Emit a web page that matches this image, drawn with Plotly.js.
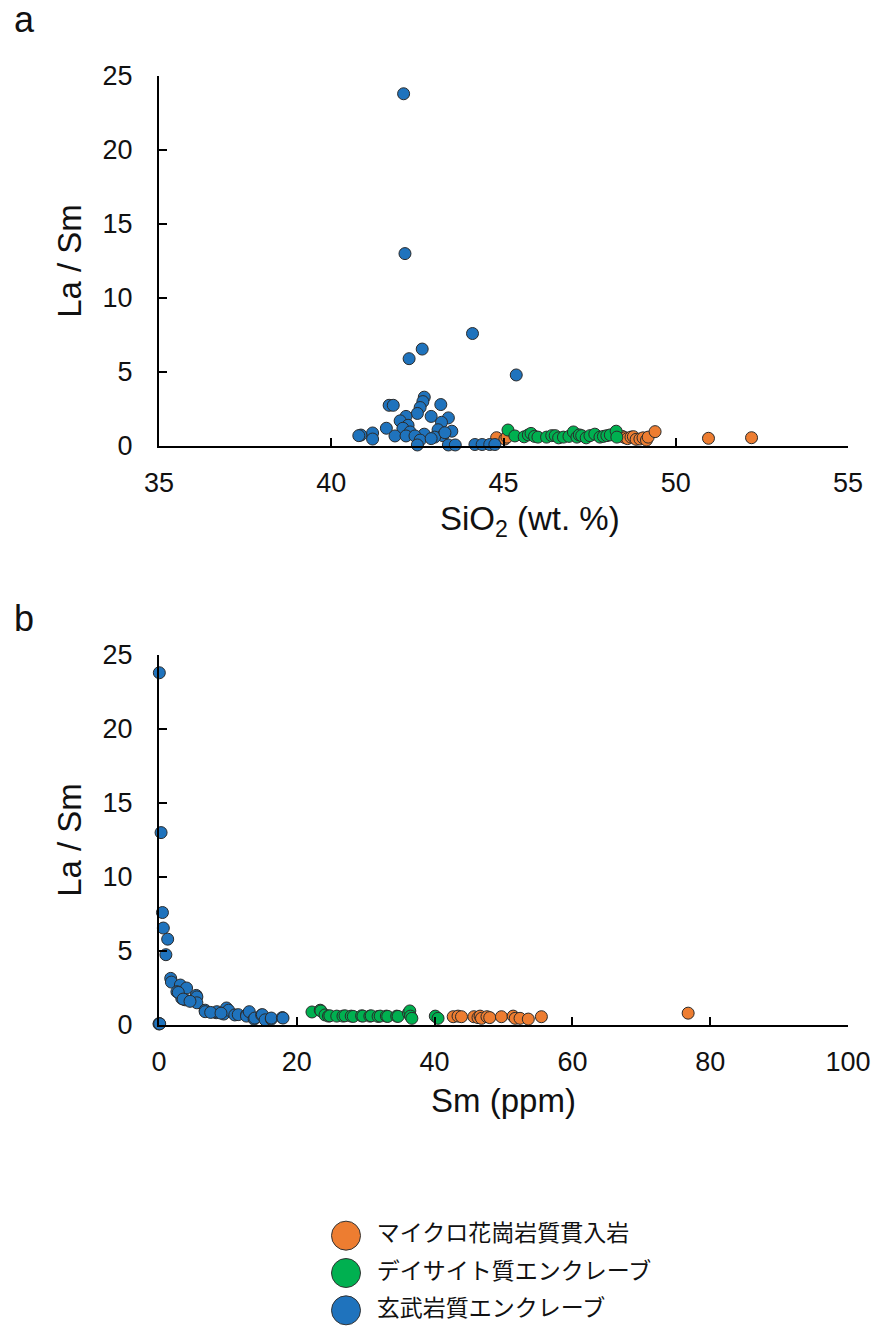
<!DOCTYPE html>
<html>
<head>
<meta charset="utf-8">
<script src="https://cdn.plot.ly/plotly-3.0.1.min.js"></script>
<style>html,body{margin:0;padding:0;background:#fff;}#chart{width:878px;height:1329px;}</style>
</head>
<body>
<div id="chart"></div>
<script>
// Group names (legend order)
var groupNames = ["マイクロ花崗岩質貫入岩", "デイサイト質エンクレーブ", "玄武岩質エンクレーブ"];
var groupColors = ["#ED7D31", "#00B050", "#1F73BD"];

// Panel a: SiO2 (wt.%) vs La/Sm
var orangeSiO2 = [44.8,45.04,45.1,48.45,48.53,48.6,48.7,48.77,48.85,48.96,49.05,49.15,49.2,49.4,50.95,52.2];
var orangeLaSmA = [0.56,0.47,0.6,0.65,0.56,0.5,0.6,0.63,0.45,0.47,0.55,0.4,0.6,0.97,0.52,0.56];
var greenSiO2 = [45.13,45.33,45.6,45.72,45.8,45.9,46.0,46.25,46.4,46.5,46.6,46.74,46.9,47.03,47.13,47.2,47.27,47.4,47.51,47.65,47.8,47.9,48.0,48.1,48.27,48.29];
var greenLaSmA = [1.08,0.68,0.62,0.75,0.85,0.65,0.6,0.6,0.7,0.7,0.55,0.6,0.65,0.95,0.6,0.75,0.7,0.55,0.7,0.8,0.6,0.65,0.7,0.75,1.0,0.6];
var blueSiO2 = [42.1,42.14,44.1,42.64,42.26,45.37,42.7,42.66,43.18,41.68,41.8,42.58,42.5,42.17,42.9,43.4,42.0,43.2,42.23,41.6,42.08,43.1,43.5,42.29,41.2,42.7,40.86,43.24,41.85,42.17,42.43,43.0,41.2,42.58,42.5,43.4,43.6,44.17,44.38,44.6,44.75,40.8,42.9,43.3];
var blueLaSmA = [23.8,13.0,7.6,6.55,5.9,4.8,3.3,3.0,2.8,2.75,2.75,2.6,2.2,2.0,2.0,1.9,1.7,1.6,1.4,1.2,1.2,1.1,1.0,0.95,0.88,0.8,0.74,0.7,0.68,0.68,0.68,0.6,0.47,0.4,0.07,0.07,0.07,0.1,0.1,0.1,0.1,0.7,0.5,0.9];

// Panel b: Sm (ppm) vs La/Sm
var orangeSm = [42.7,43.4,43.9,45.7,46.3,46.6,46.8,47.6,48.0,49.7,51.4,51.7,52.4,53.6,55.5,76.8];
var orangeLaSmB = [0.56,0.6,0.56,0.56,0.5,0.6,0.45,0.56,0.5,0.56,0.6,0.45,0.45,0.4,0.56,0.8];
var greenSm = [22.2,23.4,23.5,24.1,24.6,24.8,25.8,26.7,27.0,27.9,28.2,29.4,29.6,30.6,30.8,31.8,32.1,33.0,33.2,34.5,34.7,36.2,36.4,36.5,36.7,40.1,40.5];
var greenLaSmB = [0.88,1.0,0.95,0.68,0.6,0.62,0.6,0.6,0.62,0.6,0.58,0.62,0.6,0.6,0.62,0.58,0.6,0.6,0.58,0.6,0.58,0.8,0.95,0.6,0.45,0.6,0.45];
var blueSm = [0.05,0.3,0.5,0.63,1.26,1.0,0.0,0.05,0.1,1.7,1.8,3.1,4.0,2.6,3.3,3.8,2.8,3.5,5.4,5.5,5.5,6.7,6.7,8.3,8.4,9.4,9.8,10.1,11.0,11.5,12.7,12.7,13.1,13.8,13.9,14.9,15.0,15.4,16.3,16.3,17.9,18.0,7.5,9.0,4.5];
var blueLaSmB = [23.8,13.0,7.6,6.55,5.8,4.75,0.07,0.1,0.08,3.15,2.9,2.7,2.5,2.25,1.8,1.7,2.2,1.75,2.0,1.9,1.5,1.0,0.9,0.83,0.9,0.74,1.15,1.0,0.68,0.7,0.68,0.6,0.9,0.4,0.47,0.68,0.7,0.35,0.4,0.47,0.5,0.47,0.85,0.8,1.6];

// Axis ticks and titles
var xTicksA = [35,40,45,50,55];
var xTicksB = [0,20,40,60,80,100];
var yTicks = [0,5,10,15,20,25];
var xTitleA = "SiO<sub>2</sub> (wt. %)";
var xTitleB = "Sm (ppm)";
var yTitle = "La / Sm";

var FONT = "'Liberation Sans', Arial, 'Noto Sans CJK JP', sans-serif";
var JFONT = "'Noto Sans CJK JP', 'Liberation Sans', sans-serif";
var outline = {color: "#2b2b2b", width: 1};

function pts(x, y, i, xa, ya) {
  return {x: x, y: y, xaxis: xa, yaxis: ya, type: "scatter", mode: "markers",
    name: groupNames[i], showlegend: false, cliponaxis: false,
    marker: {size: 12, color: groupColors[i], line: outline}};
}

var data = [
  pts(orangeSiO2, orangeLaSmA, 0, "x", "y"),
  pts(greenSiO2, greenLaSmA, 1, "x", "y"),
  pts(blueSiO2, blueLaSmA, 2, "x", "y"),
  pts(orangeSm, orangeLaSmB, 0, "x2", "y2"),
  pts(greenSm, greenLaSmB, 1, "x2", "y2"),
  pts(blueSm, blueLaSmB, 2, "x2", "y2")
];

// legend rows drawn in a hidden helper subplot
groupNames.forEach(function(n, i) {
  data.push({x: [0], y: [i], xaxis: "x3", yaxis: "y3", type: "scatter", mode: "markers+text",
    text: ["\u2002" + n], textposition: "middle right", cliponaxis: false, showlegend: false,
    textfont: {family: JFONT, size: 23, color: "#111"},
    marker: {size: 29, color: groupColors[i], line: {color: "#333", width: 1}}});
});

function xax(range, ticks, title, anchor) {
  var a = {domain: [159/878, 848/878], range: range, tickvals: ticks, ticktext: ticks.map(String),
    anchor: anchor, showline: true, linecolor: "#000", linewidth: 2, mirror: false,
    ticks: "inside", ticklen: 8, tickwidth: 2, tickcolor: "#000", showgrid: false, zeroline: false,
    ticklabelstandoff: 12, tickfont: {family: FONT, size: 27, color: "#111"},
    fixedrange: true};
  if (title) a.title = {text: title, font: {family: FONT, size: 33, color: "#111"}, standoff: 12};
  return a;
}
function yax(domain, anchor) {
  return {domain: domain, range: [0, 25], tickvals: yTicks, ticktext: yTicks.map(String), anchor: anchor,
    showline: true, linecolor: "#000", linewidth: 2, ticks: "inside", ticklen: 8, tickwidth: 2,
    tickcolor: "#000", showgrid: false, zeroline: false, ticklabelstandoff: 19,
    tickfont: {family: FONT, size: 27, color: "#111"},
    title: {text: yTitle, font: {family: FONT, size: 33, color: "#111"}, standoff: 11},
    fixedrange: true};
}

var layout = {
  width: 878, height: 1329, paper_bgcolor: "#fff", plot_bgcolor: "rgba(0,0,0,0)",
  margin: {l: 0, r: 0, t: 0, b: 0}, showlegend: false,
  font: {family: FONT, color: "#111"},
  xaxis: xax([35, 55], xTicksA, null, "y"),
  yaxis: yax([1 - 446/1329, 1 - 76/1329], "x"),
  xaxis2: xax([0, 100], xTicksB, xTitleB, "y2"),
  yaxis2: yax([1 - 1025/1329, 1 - 655/1329], "x2"),
  xaxis3: {domain: [330/878, 362/878], range: [-0.5, 0.5], visible: false, anchor: "y3", fixedrange: true},
  yaxis3: {domain: [0, 1 - 1217/1329], range: [2.5, -0.5], visible: false, anchor: "x3", fixedrange: true},
  annotations: [
    {text: xTitleA, xref: "paper", yref: "paper", x: 530/878, y: 1 - 521/1329, xanchor: "center", yanchor: "middle",
     showarrow: false, font: {family: FONT, size: 33, color: "#111"}},
    {text: "a", xref: "paper", yref: "paper", x: 12/878, y: 1 - 20/1329, xanchor: "left", yanchor: "middle",
     showarrow: false, font: {family: FONT, size: 36, color: "#111"}},
    {text: "b", xref: "paper", yref: "paper", x: 12/878, y: 1 - 618/1329, xanchor: "left", yanchor: "middle",
     showarrow: false, font: {family: FONT, size: 36, color: "#111"}}
  ]
};

Plotly.newPlot("chart", data, layout, {displayModeBar: false, staticPlot: true});
</script>
</body>
</html>
